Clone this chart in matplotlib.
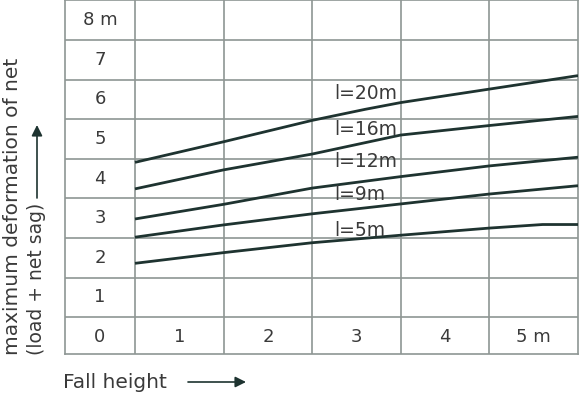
import matplotlib
matplotlib.use("Agg")
import matplotlib.pyplot as plt

# grid labels
y_labels = ["0", "1", "2", "3", "4", "5", "6", "7", "8 m"]
x_labels = ["1", "2", "3", "4", "5 m"]

# curves (x in grid columns, y in metres)
net_names = ["l=20m", "l=16m", "l=12m", "l=9m", "l=5m"]
x_l20 = [0, 1, 2, 2.6, 3, 4, 5]
y_l20 = [4.41, 4.93, 5.47, 5.75, 5.92, 6.26, 6.60]
x_l16 = [0, 1, 2, 3, 4, 5]
y_l16 = [3.74, 4.22, 4.62, 5.10, 5.34, 5.57]
x_l12 = [0, 1, 2, 3, 4, 5]
y_l12 = [2.98, 3.35, 3.76, 4.05, 4.32, 4.54]
x_l9 = [0, 1, 2, 3, 4, 5]
y_l9 = [2.52, 2.83, 3.11, 3.36, 3.61, 3.82]
x_l5 = [0, 1, 2, 3, 4, 4.6, 5]
y_l5 = [1.86, 2.13, 2.38, 2.57, 2.75, 2.84, 2.84]
label_y = [6.16, 5.24, 4.42, 3.60, 2.70]

line_col = "#1e3330"
text_col = "#3a3a3a"
grid_col = "#8e9694"

W, H = 580, 394
fig = plt.figure(figsize=(W / 100, H / 100), dpi=100)
ax = fig.add_axes([65 / W, 1 - 354 / H, (578 - 65) / W, 354 / H])
ax.set_xlim(-0.79, 5)
ax.set_ylim(-0.43, 8.51)
ax.set_xticks([])
ax.set_yticks([])
for sp in ax.spines.values():
    sp.set_color(grid_col)
    sp.set_linewidth(1.2)

# table grid
for i in range(5):
    ax.axvline(i, color=grid_col, lw=1.2, zorder=1)
for k in range(8):
    ax.axhline(k + 0.5, color=grid_col, lw=1.2, zorder=1)

for k, lab in enumerate(y_labels):
    ax.text(-0.395, k, lab, ha="center", va="center", fontsize=13, color=text_col)
for i, lab in enumerate(x_labels):
    ax.text(i + 0.5, 0, lab, ha="center", va="center", fontsize=13, color=text_col)

# curves
curves = [(x_l20, y_l20), (x_l16, y_l16), (x_l12, y_l12), (x_l9, y_l9), (x_l5, y_l5)]
for (xs, ys), name, ly in zip(curves, net_names, label_y):
    ax.plot(xs, ys, color=line_col, lw=2.0, solid_capstyle="butt", zorder=3)
    ax.text(2.246, ly, name, ha="left", va="center", fontsize=13.5, color=text_col, zorder=4)

# axis titles with arrows
fig.text(13 / W, 1 - 355 / H, "maximum deformation of net", rotation=90,
         rotation_mode="anchor", ha="left", va="center", fontsize=14.5, color=text_col)
fig.text(37 / W, 1 - 355 / H, "(load + net sag)", rotation=90,
         rotation_mode="anchor", ha="left", va="center", fontsize=13.5, color=text_col)
fig.text(63 / W, 1 - 382 / H, "Fall height", ha="left", va="center",
         fontsize=14.5, color=text_col)

arrow = dict(arrowstyle="-|>", color=line_col, lw=1.2, mutation_scale=16, shrinkA=0, shrinkB=0)
fig.add_artist(matplotlib.patches.FancyArrowPatch(
    (37 / W, 1 - 198 / H), (37 / W, 1 - 125 / H), transform=fig.transFigure, **arrow))
fig.add_artist(matplotlib.patches.FancyArrowPatch(
    (188 / W, 1 - 382 / H), (246 / W, 1 - 382 / H), transform=fig.transFigure, **arrow))

fig.savefig("out.png", dpi=100)
